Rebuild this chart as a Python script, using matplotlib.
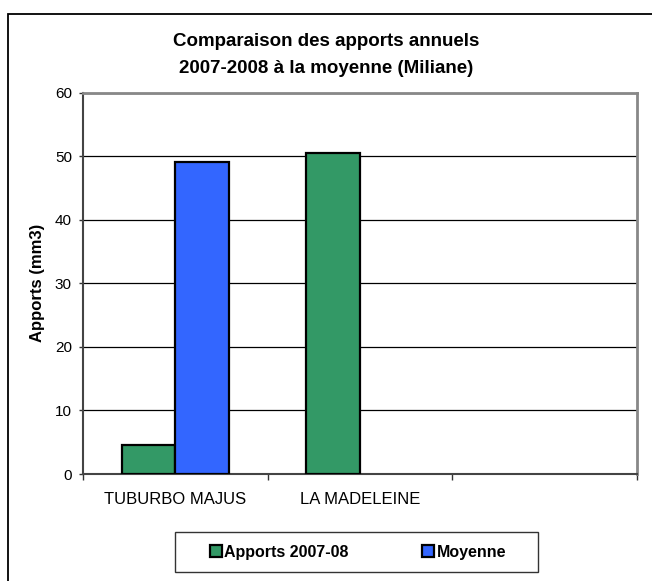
import matplotlib
matplotlib.use("Agg")
import matplotlib.pyplot as plt
import numpy as np
from matplotlib.patches import Rectangle

plt.rcParams['font.family'] = ['Liberation Sans', 'DejaVu Sans']

# données (nan = pas de barre)
stations = ['TUBURBO MAJUS', 'LA MADELEINE', '']
apports = [4.5, 50.5, np.nan]
moyenne = [49, np.nan, np.nan]
yticks = [0, 10, 20, 30, 40, 50, 60]

W, H = 652, 581
fig = plt.figure(figsize=(W/100, H/100), dpi=100)
ax = fig.add_axes([83/W, 1 - 474/H, 554/W, 381.5/H])

# cadre extérieur (dépasse à droite et en bas)
fig.patches.append(Rectangle((8/W, -0.05), 1.0, 1.05 - 13.5/H,
                             transform=fig.transFigure, fill=False,
                             edgecolor='black', linewidth=1.3, clip_on=False))

x = np.arange(len(stations))
w = 0.29
ax.bar(x - w/2, apports, w, color='#339966', edgecolor='black', linewidth=1.6,
       label='Apports 2007-08', zorder=3)
ax.bar(x + w/2, moyenne, w, color='#3366FF', edgecolor='black', linewidth=1.6,
       label='Moyenne', zorder=3)

ax.set_xlim(-0.5, len(stations) - 0.5)
ax.set_ylim(0, 60)
ax.set_yticks(yticks)
ax.yaxis.grid(True, color='black', linewidth=0.9)
ax.set_axisbelow(True)

ax.set_xticks(x)
ax.set_xticklabels(stations, fontsize=12)
ax.set_xticks(np.arange(len(stations) + 1) - 0.5, minor=True)
ax.tick_params(axis='x', which='major', length=0, pad=13)
ax.tick_params(axis='x', which='minor', length=4.5, width=1, color='#333333')
ax.tick_params(axis='y', length=3, width=1, labelsize=11, pad=5, color='#333333')

for side in ['top', 'right']:
    ax.spines[side].set_color('#888888')
    ax.spines[side].set_linewidth(2)
ax.spines['left'].set_color('#444444')
ax.spines['bottom'].set_color('#444444')
ax.spines['left'].set_linewidth(1.5)
ax.spines['bottom'].set_linewidth(1.5)

ylab = ax.set_ylabel('Apports (mm3)', fontsize=12, fontweight='bold')
ylab.set_va('center')
ax.yaxis.set_label_coords((37.5 - 83) / 554, 0.5)

fig.text(0.5, 1 - 55/H, 'Comparaison des apports annuels\n2007-2008 à la moyenne (Miliane)',
         ha='center', va='center', fontsize=13.5, fontweight='bold', linespacing=1.8)

# légende sans cadre + cadre rectangulaire dessiné à part
leg = fig.legend(loc='center', bbox_to_anchor=(358/W, 1 - 552/H), ncol=2,
                 frameon=False, prop={'weight': 'bold', 'size': 11.5},
                 handlelength=0.75, handleheight=0.75, handletextpad=0.15,
                 columnspacing=4.6)
fig.patches.append(Rectangle((175/W, 1 - 572/H), 363/W, 40/H,
                             transform=fig.transFigure, fill=False,
                             edgecolor='#333333', linewidth=1.0))

fig.savefig('out.png', dpi=100)
